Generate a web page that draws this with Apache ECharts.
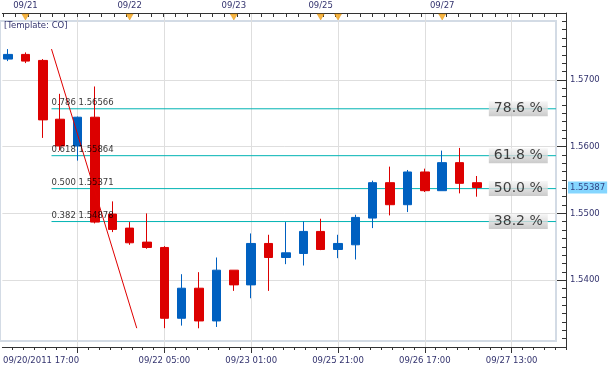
<!DOCTYPE html>
<html><head><meta charset="utf-8">
<script src="https://cdn.jsdelivr.net/npm/echarts@6/dist/echarts.min.js"></script>
<style>html,body{margin:0;padding:0;background:#fff}#c{width:609px;height:369px}</style>
</head><body><div id="c"></div>
<script>
// ---- data (4-hour candles) ----
const barTimes = ['09/20/2011 17:00','09/20 21:00','09/21 01:00','09/21 05:00','09/21 09:00','09/21 13:00','09/21 17:00','09/21 21:00','09/22 01:00','09/22 05:00','09/22 09:00','09/22 13:00','09/22 17:00','09/22 21:00','09/23 01:00','09/23 05:00','09/23 09:00','09/23 13:00','09/23 17:00','09/25 21:00','09/26 01:00','09/26 05:00','09/26 09:00','09/26 13:00','09/26 17:00','09/26 21:00','09/27 01:00','09/27 05:00'];
const openP  = [1.5731,1.5738,1.5729,1.5641,1.5601,1.5644,1.5499,1.5478,1.5457,1.5449,1.5343,1.5388,1.5339,1.5415,1.5393,1.5455,1.5434,1.5440,1.5473,1.5446,1.5453,1.5493,1.5546,1.5513,1.5562,1.5534,1.5576,1.5546];
const closeP = [1.5738,1.5728,1.5640,1.5601,1.5644,1.5487,1.5476,1.5456,1.5449,1.5343,1.5388,1.5339,1.5415,1.5393,1.5455,1.5434,1.5441,1.5473,1.5446,1.5455,1.5494,1.5546,1.5513,1.5562,1.5534,1.5576,1.5545,1.55387];
const lowP   = [1.5728,1.5725,1.5613,1.5594,1.5579,1.5485,1.5472,1.5453,1.5447,1.53282,1.5332,1.5328,1.5330,1.5384,1.5373,1.5384,1.5424,1.5422,1.5445,1.5433,1.5431,1.5478,1.5497,1.5502,1.5532,1.5534,1.5530,1.5525];
const highP  = [1.5746,1.5741,1.5731,1.5679,1.5645,1.5690,1.5518,1.5487,1.5500,1.5451,1.5409,1.5412,1.5434,1.5415,1.5470,1.5468,1.5487,1.5488,1.5492,1.5468,1.5498,1.5549,1.5570,1.5565,1.5567,1.5594,1.5598,1.5556];

const bottomLabelIdx = [0,9,14,19,24,29];
const bottomLabels = ['09/20/2011 17:00','09/22 05:00','09/23 01:00','09/25 21:00','09/26 17:00','09/27 13:00'];
const gridIdx = [4,9,14,19,24,29];
const dayLabelIdx = [1,7,13,18,25];
const dayLabels = ['09/21','09/22','09/23','09/25','09/27'];
const dayMarkIdx = [1,7,13,18,19,25];

const fibRatios = [0.786,0.618,0.5,0.382];
const fibPrices = [1.56566,1.55864,1.55371,1.54878];
const fibPctLabels = ['78.6 %','61.8 %','50.0 %','38.2 %'];
const fibSpan = [2.5, 31.55];
const fibLabelX = 31.08;
const trendX = [2.5, 7.41];
const trendY = [1.5746, 1.53282];
const lastPrice = 1.55387;
const templateLabel = '[Template: CO]';

// ---- layout / style ----
const xMin = -0.33, xMax = 32.13;
const yMin = 1.53, yMax = 1.58;
const FONT = 'DejaVu Sans';
const LBL = '#33336e';
const AX = '#333333';
const RED = '#dc0000', BLUE = '#0060c0', TEAL = '#00b3b3';

const topTicks = [];
for (let v = -0.28; v < xMax; v += 0.708) topTicks.push(+v.toFixed(3));
const bottomMinor = [];
for (let v = 0.25; v < xMax; v += 0.625) bottomMinor.push(+v.toFixed(3));

function labelAt(list, idxs, v) {
  const k = idxs.findIndex(x => Math.abs(x - v) < 1e-6);
  return k < 0 ? '' : list[k];
}

const chart = echarts.init(document.getElementById('c'), null, {renderer: 'canvas'});
const series = [];

fibPrices.forEach((p) => {
  series.push({
    type: 'line', xAxisIndex: 0, yAxisIndex: 0, silent: true, symbol: 'none', z: 2,
    data: [[fibSpan[0], p], [fibSpan[1], p]],
    lineStyle: {color: TEAL, width: 1}
  });
});

series.push({
  type: 'candlestick', name: 'CO', xAxisIndex: 0, yAxisIndex: 0, barWidth: 9, z: 3,
  data: barTimes.map((t, i) => [i, openP[i], closeP[i], lowP[i], highP[i]]),
  itemStyle: {color: BLUE, color0: RED, borderColor: BLUE, borderColor0: RED, borderWidth: 1}
});

series.push({
  type: 'line', xAxisIndex: 0, yAxisIndex: 0, silent: true, symbol: 'none', z: 4,
  data: trendX.map((x, i) => [x, trendY[i]]),
  lineStyle: {color: '#e00000', width: 1}
});

series.push({
  type: 'scatter', xAxisIndex: 0, yAxisIndex: 0, silent: true, symbolSize: 0, z: 5, clip: false,
  data: fibPrices.map((p, i) => [fibSpan[0], p, i]),
  label: {
    show: true, position: [0, -10], fontSize: 8.5, fontFamily: FONT, color: '#000',
    textShadowColor: 'rgba(40,90,220,0.6)', textShadowOffsetX: 1, textShadowBlur: 0,
    formatter: (pr) => fibRatios[pr.value[2]].toFixed(3) + ' ' + fibPrices[pr.value[2]].toFixed(5)
  }
});

series.push({
  type: 'scatter', xAxisIndex: 0, yAxisIndex: 0, silent: true, symbolSize: 0, z: 6, clip: false,
  data: fibPrices.map((p, i) => [fibLabelX, p, i]),
  label: {
    show: true, position: 'left', distance: 0, fontSize: 14, lineHeight: 14, fontFamily: FONT, color: '#111',
    padding: [1, 5, 0, 5],
    backgroundColor: new echarts.graphic.LinearGradient(0, 0, 0, 1, [
      {offset: 0, color: '#f4f4f4'}, {offset: 0.5, color: '#dadada'}, {offset: 1, color: '#bdbdbd'}]),
    formatter: (pr) => fibPctLabels[pr.value[2]]
  }
});

series.push({
  type: 'scatter', xAxisIndex: 0, yAxisIndex: 0, silent: true, z: 7, clip: false,
  symbol: 'triangle', symbolRotate: 180, symbolSize: [7, 6], symbolOffset: [0, 4],
  itemStyle: {color: '#f5a214', borderColor: '#d98a00', borderWidth: 0.5},
  data: dayMarkIdx.map(i => [i, yMax])
});

series.push({
  type: 'scatter', xAxisIndex: 0, yAxisIndex: 0, silent: true, symbolSize: 0, z: 7, clip: false,
  data: [[xMax, lastPrice]],
  label: {
    show: true, position: 'right', distance: 2, fontSize: 8.5, fontFamily: FONT, color: '#1a1a60',
    backgroundColor: '#66ccff', padding: [2, 2, 1, 2],
    formatter: () => lastPrice.toFixed(5)
  }
});

const option = {
  animation: false,
  backgroundColor: '#ffffff',
  textStyle: {fontFamily: FONT},
  title: {text: templateLabel, left: 4, top: 21, padding: 0,
    textStyle: {fontSize: 8.5, fontWeight: 'normal', color: LBL, fontFamily: FONT}},
  grid: [
    {left: 0, right: 43, top: 13, bottom: 22, show: false},
    {left: 0, right: 53, top: 21, bottom: 28, show: true, borderColor: '#d3dbe5', borderWidth: 2, backgroundColor: 'transparent'}
  ],
  xAxis: [
    {gridIndex: 0, type: 'value', position: 'bottom', min: xMin, max: xMax,
      axisLine: {show: true, onZero: false, lineStyle: {color: AX, width: 1}},
      axisTick: {show: true, customValues: gridIdx, length: 6, lineStyle: {color: AX}},
      axisLabel: {show: true, customValues: bottomLabelIdx, fontSize: 8.5, fontFamily: FONT, color: LBL, margin: 9,
        formatter: (v) => {
          const s = labelAt(bottomLabels, bottomLabelIdx, v);
          return Math.abs(v - bottomLabelIdx[0]) < 1e-6 ? '{first|' + s + '}' : s;
        },
        rich: {first: {padding: [0, 0, 0, 66], fontSize: 8.5, fontFamily: FONT, color: LBL}}},
      splitLine: {show: true, lineStyle: {color: '#dedede', width: 1}}},
    {gridIndex: 0, type: 'value', position: 'top', min: xMin, max: xMax,
      axisLine: {show: true, onZero: false, lineStyle: {color: AX, width: 1}},
      axisTick: {show: true, customValues: topTicks, inside: true, length: 4, lineStyle: {color: AX}},
      axisLabel: {show: true, customValues: dayLabelIdx, fontSize: 8.5, fontFamily: FONT, color: LBL, margin: 3,
        formatter: (v) => labelAt(dayLabels, dayLabelIdx, v)},
      splitLine: {show: false}},
    {gridIndex: 0, type: 'value', position: 'bottom', min: xMin, max: xMax,
      axisLine: {show: false, onZero: false},
      axisTick: {show: true, customValues: bottomMinor, length: 3, lineStyle: {color: AX}},
      axisLabel: {show: false}, splitLine: {show: false}},
    {gridIndex: 1, type: 'value', show: false, min: 0, max: 1}
  ],
  yAxis: [
    {gridIndex: 0, type: 'value', position: 'right', min: yMin, max: yMax, interval: 0.01,
      axisLine: {show: true, onZero: false, lineStyle: {color: AX, width: 1}},
      axisTick: {show: true, inside: true, length: 9, lineStyle: {color: AX}},
      minorTick: {show: true, splitNumber: 8, length: 4, lineStyle: {color: AX}},
      axisLabel: {show: true, showMinLabel: false, showMaxLabel: false, margin: 4, fontSize: 8.5, fontFamily: FONT, color: LBL,
        formatter: (v) => v.toFixed(4)},
      splitLine: {show: true, lineStyle: {color: '#dedede', width: 1}}},
    {gridIndex: 1, type: 'value', show: false, min: 0, max: 1}
  ],
  series: series
};
chart.setOption(option);
</script>
</body></html>
